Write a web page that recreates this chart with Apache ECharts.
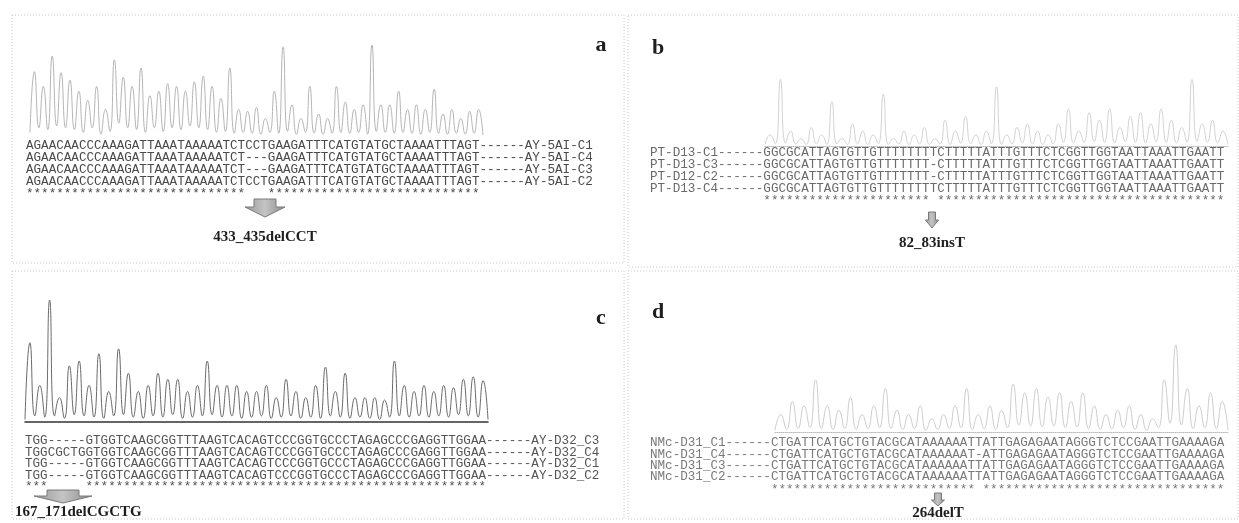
<!DOCTYPE html>
<html>
<head>
<meta charset="utf-8">
<title>测序比对</title>
<script src="https://cdn.jsdelivr.net/npm/echarts@6/dist/echarts.min.js"></script>
<style>
html,body{margin:0;padding:0;background:#fff;}
#chart{width:1239px;height:523px;}
</style>
</head>
<body>
<div id="chart"></div>
<script>
// chromatogram traces (valley, peak, valley, peak ...), 0..1 of panel height
var chromA = [0.05,0.71,0.10,0.55,0.08,0.88,0.12,0.70,0.10,0.62,0.08,0.50,0.05,0.40,0.10,0.55,0.03,0.30,0.06,0.84,
  0.15,0.65,0.10,0.55,0.08,0.75,0.05,0.45,0.10,0.50,0.06,0.58,0.10,0.55,0.08,0.50,0.12,0.60,0.10,0.66,
  0.08,0.55,0.05,0.42,0.06,0.75,0.04,0.30,0.05,0.28,0.04,0.32,0.03,0.20,0.05,0.50,0.04,0.98,0.06,0.35,
  0.03,0.20,0.05,0.55,0.04,0.25,0.03,0.20,0.04,0.55,0.05,0.38,0.04,0.30,0.05,0.35,0.03,1.00,0.06,0.35,
  0.05,0.35,0.04,0.50,0.05,0.30,0.04,0.35,0.03,0.30,0.05,0.52,0.04,0.25,0.03,0.30,0.04,0.20,0.03,0.28,0.04,0.30,0.02];
var darkA = [[15,19],[44,56],[62,66],[68,74],[78,80],[82,90],[92,102]];

var chromB = [0.02,0.15,0.03,0.90,0.04,0.20,0.03,0.10,0.02,0.25,0.03,0.15,0.02,0.60,0.03,0.10,0.02,0.30,0.03,0.20,
  0.02,0.15,0.03,0.70,0.02,0.10,0.03,0.20,0.02,0.15,0.03,0.25,0.02,0.10,0.03,0.35,0.02,0.20,0.04,0.40,
  0.03,0.15,0.02,0.20,0.03,0.80,0.02,0.15,0.03,0.25,0.04,0.30,0.03,0.20,0.02,0.15,0.03,0.30,0.05,0.50,
  0.04,0.20,0.05,0.45,0.06,0.35,0.05,0.50,0.04,0.25,0.06,0.40,0.05,0.45,0.04,0.30,0.06,0.50,0.05,0.35,
  0.04,0.25,0.05,0.90,0.06,0.30,0.05,0.35,0.04,0.20,0.02];

var chromC = [0.02,0.65,0.05,0.30,0.04,1.00,0.05,0.20,0.03,0.46,0.06,0.50,0.05,0.30,0.04,0.56,0.03,0.25,0.05,0.60,
  0.06,0.40,0.04,0.25,0.03,0.30,0.05,0.40,0.04,0.35,0.06,0.35,0.03,0.25,0.04,0.30,0.05,0.50,0.06,0.30,
  0.04,0.30,0.05,0.30,0.03,0.25,0.04,0.25,0.05,0.30,0.03,0.20,0.04,0.35,0.05,0.25,0.03,0.20,0.04,0.30,
  0.03,0.45,0.05,0.25,0.04,0.40,0.03,0.20,0.04,0.20,0.03,0.20,0.02,0.18,0.04,0.50,0.05,0.30,0.04,0.25,
  0.05,0.30,0.04,0.25,0.05,0.30,0.04,0.28,0.06,0.35,0.05,0.37,0.04,0.34,0.02];
var lightC = [[0,2],[4,6],[36,38],[60,62],[64,66],[74,76]];

var chromD = [0.02,0.20,0.03,0.35,0.04,0.30,0.05,0.60,0.04,0.30,0.03,0.25,0.04,0.40,0.03,0.20,0.04,0.30,0.05,0.50,
  0.04,0.25,0.03,0.20,0.04,0.30,0.02,0.15,0.03,0.20,0.04,0.30,0.05,0.50,0.03,0.20,0.04,0.30,0.03,0.25,
  0.05,0.55,0.08,0.45,0.07,0.50,0.06,0.40,0.07,0.45,0.05,0.35,0.06,0.45,0.04,0.30,0.03,0.20,0.04,0.25,
  0.05,0.30,0.03,0.20,0.02,0.15,0.05,0.60,0.10,1.00,0.08,0.50,0.04,0.30,0.05,0.45,0.04,0.35,0.02];

// alignment rows
var seqA = [
  'AGAACAACCCAAAGATTAAATAAAAATCTCCTGAAGATTTCATGTATGCTAAAATTTAGT------AY-5AI-C1',
  'AGAACAACCCAAAGATTAAATAAAAATCT---GAAGATTTCATGTATGCTAAAATTTAGT------AY-5AI-C4',
  'AGAACAACCCAAAGATTAAATAAAAATCT---GAAGATTTCATGTATGCTAAAATTTAGT------AY-5AI-C3',
  'AGAACAACCCAAAGATTAAATAAAAATCTCCTGAAGATTTCATGTATGCTAAAATTTAGT------AY-5AI-C2',
  '*****************************   ****************************'
];
var seqB = [
  'PT-D13-C1------GGCGCATTAGTGTTGTTTTTTTTCTTTTTATTTGTTTCTCGGTTGGTAATTAAATTGAATT',
  'PT-D13-C3------GGCGCATTAGTGTTGTTTTTTT-CTTTTTATTTGTTTCTCGGTTGGTAATTAAATTGAATT',
  'PT-D12-C2------GGCGCATTAGTGTTGTTTTTTT-CTTTTTATTTGTTTCTCGGTTGGTAATTAAATTGAATT',
  'PT-D13-C4------GGCGCATTAGTGTTGTTTTTTTTCTTTTTATTTGTTTCTCGGTTGGTAATTAAATTGAATT',
  '               ********************** **************************************'
];
var seqC = [
  'TGG-----GTGGTCAAGCGGTTTAAGTCACAGTCCCGGTGCCCTAGAGCCCGAGGTTGGAA------AY-D32_C3',
  'TGGCGCTGGTGGTCAAGCGGTTTAAGTCACAGTCCCGGTGCCCTAGAGCCCGAGGTTGGAA------AY-D32_C4',
  'TGG-----GTGGTCAAGCGGTTTAAGTCACAGTCCCGGTGCCCTAGAGCCCGAGGTTGGAA------AY-D32_C1',
  'TGG-----GTGGTCAAGCGGTTTAAGTCACAGTCCCGGTGCCCTAGAGCCCGAGGTTGGAA------AY-D32_C2',
  '***     *****************************************************'
];
var seqD = [
  'NMc-D31_C1------CTGATTCATGCTGTACGCATAAAAAATTATTGAGAGAATAGGGTCTCCGAATTGAAAAGA',
  'NMc-D31_C4------CTGATTCATGCTGTACGCATAAAAAAT-ATTGAGAGAATAGGGTCTCCGAATTGAAAAGA',
  'NMc-D31_C3------CTGATTCATGCTGTACGCATAAAAAATTATTGAGAGAATAGGGTCTCCGAATTGAAAAGA',
  'NMc-D31_C2------CTGATTCATGCTGTACGCATAAAAAATTATTGAGAGAATAGGGTCTCCGAATTGAAAAGA',
  '                *************************** ********************************'
];
var panelLetters = ['a', 'b', 'c', 'd'];
var mutations = ['433_435delCCT', '82_83insT', '167_171delCGCTG', '264delT'];

var chart = echarts.init(document.getElementById('chart'));

function toPairs(arr) {
  return arr.map(function (v, i) { return [i, v]; });
}
function pieces(ranges, len, inColor, outColor) {
  var out = [], pos = 0;
  ranges.forEach(function (r) {
    if (r[0] > pos) out.push({gte: pos, lt: r[0], color: outColor});
    out.push({gte: r[0], lt: r[1], color: inColor});
    pos = r[1];
  });
  if (pos < len) out.push({gte: pos, lte: len, color: outColor});
  return out;
}

var MONO = '"Liberation Mono", "DejaVu Sans Mono", monospace';
var SERIF = '"Liberation Serif", "DejaVu Serif", serif';

function rows(lines, x, ys, color) {
  return lines.map(function (t, i) {
    return {type: 'text', x: x, y: ys[i], silent: true,
      style: {text: t, fontFamily: MONO, fontSize: 12.6, fill: color, verticalAlign: 'middle'}};
  });
}
function arrow(cx, top, bottom, headY, shaftW, headW) {
  return {type: 'polygon', silent: true,
    shape: {points: [[cx - shaftW / 2, top], [cx + shaftW / 2, top], [cx + shaftW / 2, headY],
      [cx + headW / 2, headY], [cx, bottom], [cx - headW / 2, headY], [cx - shaftW / 2, headY]]},
    style: {fill: new echarts.graphic.LinearGradient(0, 0, 1, 0, [
      {offset: 0, color: '#9a9a9a'}, {offset: 0.5, color: '#c4c4c4'}, {offset: 1, color: '#8a8a8a'}]),
      stroke: '#7a7a7a', lineWidth: 1}};
}
function frame(x, y, w, h) {
  return {type: 'rect', silent: true, shape: {x: x, y: y, width: w, height: h},
    style: {fill: 'none', stroke: '#c8c8c8', lineWidth: 1, lineDash: [1, 2]}};
}
function label(t, x, y, align, size) {
  return {type: 'text', x: x, y: y, silent: true,
    style: {text: t, fontFamily: SERIF, fontSize: size, fontWeight: 'bold', fill: '#1e1e1e',
      align: align, verticalAlign: 'middle'}};
}

var graphics = [
  frame(12, 15, 612, 248), frame(628, 15, 610, 252),
  frame(12, 271, 612, 248), frame(628, 271, 610, 248)
]
  .concat(rows(seqA, 26, [146, 158, 170, 182, 194], '#4a4a4a'))
  .concat(rows(seqB, 650, [153, 165, 177, 189, 201], '#6a6a6a'))
  .concat(rows(seqC, 25, [441, 453, 464, 476, 487], '#555555'))
  .concat(rows(seqD, 650, [443, 455, 466, 477, 490], '#7a7a7a'))
  .concat([
    label(panelLetters[0], 601, 45, 'center', 22),
    label(panelLetters[1], 658, 48, 'center', 22),
    label(panelLetters[2], 601, 318, 'center', 22),
    label(panelLetters[3], 658, 312, 'center', 22),
    label(mutations[0], 265, 237, 'center', 15),
    label(mutations[1], 932, 243, 'center', 15),
    label(mutations[2], 15, 512, 'left', 15),
    label(mutations[3], 938, 513, 'center', 15),
    arrow(265, 199, 217, 207, 22, 40),
    arrow(932, 212, 228, 220, 7, 13),
    arrow(63, 490, 503, 496, 32, 58),
    arrow(938, 493, 506, 500, 7, 13)
  ]);

var grids = [
  {left: 30, width: 453, top: 45, height: 92},
  {left: 765, width: 463, top: 72, height: 74},
  {left: 25, width: 463, top: 300, height: 122},
  {left: 775, width: 453, top: 345, height: 87}
];
var traces = [chromA, chromB, chromC, chromD];
var baseLines = [
  {show: false},
  {show: true, lineStyle: {color: '#bbb', width: 1, type: 'dotted'}},
  {show: true, lineStyle: {color: '#333', width: 1.5}},
  {show: true, lineStyle: {color: '#bbb', width: 1, type: 'dotted'}}
];
var lineColors = ['#b5b5b5', '#d2d2d2', '#6a6a6a', '#cdcdcd'];

var option = {
  animation: false,
  backgroundColor: '#fff',
  grid: grids,
  xAxis: grids.map(function (g, i) {
    return {type: 'value', gridIndex: i, min: 0, max: traces[i].length - 1,
      axisLine: baseLines[i], axisTick: {show: false}, axisLabel: {show: false}, splitLine: {show: false}};
  }),
  yAxis: grids.map(function (g, i) {
    return {type: 'value', gridIndex: i, min: 0, max: 1, show: false, splitLine: {show: false}};
  }),
  visualMap: [
    {type: 'piecewise', show: false, seriesIndex: 0, dimension: 0,
      pieces: pieces(darkA, chromA.length, '#505050', '#b5b5b5')},
    {type: 'piecewise', show: false, seriesIndex: 2, dimension: 0,
      pieces: pieces(lightC, chromC.length, '#bdbdbd', '#5e5e5e')}
  ],
  series: traces.map(function (t, i) {
    return {type: 'line', xAxisIndex: i, yAxisIndex: i, data: toPairs(t), symbol: 'none',
      smooth: 0.55, silent: true, lineStyle: {width: 1, color: lineColors[i]}};
  }),
  graphic: graphics
};
chart.setOption(option);
</script>
</body>
</html>
